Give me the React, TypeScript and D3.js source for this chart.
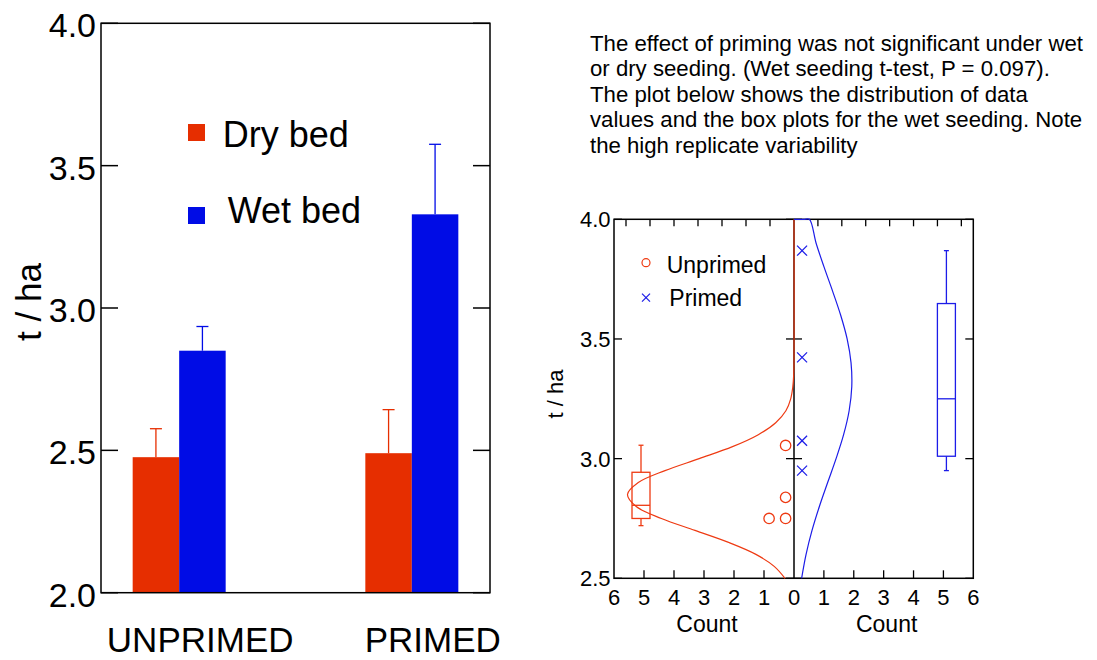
import React from 'react';
import * as d3 from 'd3';

// ---- Bar chart data (t / ha) ----
const categories = ['UNPRIMED', 'PRIMED'];
const seriesNames = ['Dry bed', 'Wet bed'];
const dryMeans = [2.476, 2.49];
const dryErrors = [0.1, 0.153];
const wetMeans = [2.85, 3.329];
const wetErrors = [0.085, 0.246];
const barTicks = [2.0, 2.5, 3.0, 3.5, 4.0];

// ---- Wet seeding distribution data ----
const unprimedWet = [3.055, 2.838, 2.75, 2.75];
const primedWet = [3.869, 3.423, 3.075, 2.95];
// box stats: lower whisker, Q1, median, Q3, upper whisker
const unprimedBoxStats = [2.72, 2.75, 2.805, 2.943, 3.056];
const primedBoxStats = [2.95, 3.01, 3.25, 3.648, 3.869];
// fitted normal curves: yield level and count
const unprimedCurveLevel = [2.5, 2.55, 2.6, 2.65, 2.7, 2.75, 2.8, 2.85, 2.9, 2.95, 3.0, 3.05, 3.1, 3.15, 3.2, 3.25, 3.3, 3.35, 3.4, 4.0];
const unprimedCurveCount = [0.3, 0.66, 1.27, 2.18, 3.3, 4.42, 5.26, 5.55, 5.19, 4.3, 3.16, 2.05, 1.19, 0.61, 0.27, 0.11, 0.04, 0.01, 0, 0];
const primedCurveLevel = [2.5, 2.6, 2.7, 2.8, 2.9, 3.0, 3.1, 3.2, 3.3, 3.4, 3.5, 3.6, 3.7, 3.8, 3.9, 4.0, 4.1, 4.2, 4.3, 4.5, 4.8];
const primedCurveCount = [0.255, 0.404, 0.603, 0.849, 1.126, 1.408, 1.66, 1.845, 1.933, 1.909, 1.778, 1.56, 1.291, 1.007, 0.74, 0.514, 0.336, 0.207, 0.12, 0.034, 0];
const distTicks = [2.5, 3.0, 3.5, 4.0];
const countTicks = [0, 1, 2, 3, 4, 5, 6];
const topMinorTicks = [1, 2, 3, 4, 5, 6, 7];

const noteLines = [
  'The effect of priming was not significant under wet',
  'or dry seeding. (Wet seeding t-test, P = 0.097).',
  'The plot below shows the distribution of data',
  'values and the box plots for the wet seeding. Note',
  'the high replicate variability',
];

const RED = '#e62e00';
const BLUE = '#000ce6';
const RED2 = '#ee3a12';
const BLUE2 = '#1c1ce8';
const FONT = "'Liberation Sans', Arial, Helvetica, sans-serif";

export default function App() {
  // ---------- left: bar chart ----------
  const L = { left: 101, right: 490, top: 23.3, bottom: 592.7 };
  const y = d3.scaleLinear().domain([2, 4]).range([L.bottom, L.top]);
  const x = d3.scalePoint<string>().domain(categories).range([L.left, L.right]).padding(0.336);
  const inner = d3.scaleBand<string>().domain(seriesNames).range([-46.5, 46.5]);
  const barData = categories.flatMap((c, i) => [
    { cat: c, s: seriesNames[0], v: dryMeans[i], e: dryErrors[i], color: RED },
    { cat: c, s: seriesNames[1], v: wetMeans[i], e: wetErrors[i], color: BLUE },
  ]);

  // ---------- right: distribution plot ----------
  const R = { left: 614, mid: 794, right: 973.3, top: 219.3, bottom: 578.3 };
  const yR = d3.scaleLinear().domain([2.5, 4]).range([R.bottom, R.top]).clamp(true);
  const cL = d3.scaleLinear().domain([0, 6]).range([R.mid, R.left]);
  const cR = d3.scaleLinear().domain([0, 6]).range([R.mid, R.right]);
  const topL = d3.scaleLinear().domain([0, 7.5]).range([R.mid, R.left]);
  const topR = d3.scaleLinear().domain([0, 7.5]).range([R.mid, R.right]);

  const redLine = d3
    .line<number>()
    .x((_, i) => cL(unprimedCurveCount[i]))
    .y((d) => yR(d))
    .curve(d3.curveCatmullRom);
  const blueLine = d3
    .line<number>()
    .x((_, i) => cR(primedCurveCount[i]))
    .y((d) => yR(d))
    .curve(d3.curveCatmullRom);

  // stacked dot positions for the unprimed values
  const seen = new Map<number, number>();
  const unprimedDots = unprimedWet.map((v) => {
    const k = seen.get(v) ?? 0;
    seen.set(v, k + 1);
    return { v, c: 0.28 + k * 0.55 };
  });

  const box = (stats: number[], cx: number, color: string) => {
    const [lo, q1, med, q3, hi] = stats;
    const w = 9;
    return (
      <g stroke={color} strokeWidth={1.3} fill="none">
        <line x1={cx} x2={cx} y1={yR(hi)} y2={yR(q3)} />
        <line x1={cx} x2={cx} y1={yR(q1)} y2={yR(lo)} />
        <line x1={cx - 2.5} x2={cx + 2.5} y1={yR(hi)} y2={yR(hi)} />
        <line x1={cx - 2.5} x2={cx + 2.5} y1={yR(lo)} y2={yR(lo)} />
        <rect x={cx - w} y={yR(q3)} width={2 * w} height={yR(q1) - yR(q3)} />
        <line x1={cx - w} x2={cx + w} y1={yR(med)} y2={yR(med)} />
      </g>
    );
  };

  return (
    <svg width={1097} height={660} style={{ position: 'absolute', left: 0, top: 0, background: '#fff' }} fontFamily={FONT}>
      {/* bars */}
      {barData.map((d) => {
        const bx = (x(d.cat) as number) + (inner(d.s) as number);
        const bw = inner.bandwidth();
        const cx = bx + bw / 2;
        return (
          <g key={d.cat + d.s}>
            <rect x={bx} y={y(d.v)} width={bw} height={y(2) - y(d.v)} fill={d.color} />
            <g stroke={d.color} strokeWidth={1.3}>
              <line x1={cx} x2={cx} y1={y(d.v)} y2={y(d.v + d.e)} />
              <line x1={cx - 6} x2={cx + 6} y1={y(d.v + d.e)} y2={y(d.v + d.e)} />
            </g>
          </g>
        );
      })}
      {/* frame and ticks */}
      <rect x={L.left} y={L.top} width={L.right - L.left} height={L.bottom - L.top} fill="none" stroke="#000" strokeWidth={1.5} />
      {barTicks.map((t) => (
        <g key={t} stroke="#000" strokeWidth={1.5}>
          <line x1={L.left} x2={L.left + 17} y1={y(t)} y2={y(t)} />
          <line x1={L.right - 17} x2={L.right} y1={y(t)} y2={y(t)} />
        </g>
      ))}
      {barTicks.map((t) => (
        <text key={'l' + t} x={L.left - 5} y={y(t) + 14} fontSize={34} textAnchor="end" fill="#000">
          {t.toFixed(1)}
        </text>
      ))}
      <text transform={`translate(41,302) rotate(-90)`} fontSize={35} textAnchor="middle" fill="#000">
        t / ha
      </text>
      {categories.map((c) => (
        <text key={c} x={(x(c) as number) + 21} y={652} fontSize={35} textAnchor="middle" fill="#000">
          {c}
        </text>
      ))}
      {/* legend */}
      <rect x={188} y={124} width={17} height={17} fill={RED} />
      <text x={222.7} y={146.7} fontSize={36} fill="#000">{seriesNames[0]}</text>
      <rect x={188} y={207} width={17} height={17} fill={BLUE} />
      <text x={227.7} y={222.7} fontSize={36} fill="#000">{seriesNames[1]}</text>

      {/* note */}
      {noteLines.map((s, i) => (
        <text key={i} x={590} y={50.7 + i * 25.5} fontSize={22.2} fill="#000">
          {s}
        </text>
      ))}

      {/* distribution plot frame */}
      <rect x={R.left} y={R.top} width={R.right - R.left} height={R.bottom - R.top} fill="none" stroke="#000" strokeWidth={1.5} />
      <line x1={R.mid} x2={R.mid} y1={R.top} y2={R.bottom} stroke="#000" strokeWidth={1.5} />
      {distTicks.map((t) => (
        <g key={t} stroke="#000" strokeWidth={1.3}>
          <line x1={R.left} x2={R.left + 8} y1={yR(t)} y2={yR(t)} />
          <line x1={R.right - 8} x2={R.right} y1={yR(t)} y2={yR(t)} />
          <line x1={R.mid - 8} x2={R.mid + 8} y1={yR(t)} y2={yR(t)} />
        </g>
      ))}
      {countTicks.slice(1, 6).map((c) => (
        <g key={c} stroke="#000" strokeWidth={1.3}>
          <line x1={cL(c)} x2={cL(c)} y1={R.bottom} y2={R.bottom - 8} />
          <line x1={cR(c)} x2={cR(c)} y1={R.bottom} y2={R.bottom - 8} />
        </g>
      ))}
      {topMinorTicks.map((c) => (
        <g key={c} stroke="#000" strokeWidth={1.3}>
          <line x1={topL(c)} x2={topL(c)} y1={R.top} y2={R.top + 7} />
          <line x1={topR(c)} x2={topR(c)} y1={R.top} y2={R.top + 7} />
        </g>
      ))}
      {distTicks.map((t) => (
        <text key={'r' + t} x={610.5} y={yR(t) + 8} fontSize={22} textAnchor="end" fill="#000">
          {t.toFixed(1)}
        </text>
      ))}
      {countTicks.map((c) => (
        <text key={'cl' + c} x={cL(c)} y={605} fontSize={22} textAnchor="middle" fill="#000">
          {c}
        </text>
      ))}
      {countTicks.slice(1).map((c) => (
        <text key={'cr' + c} x={cR(c)} y={605} fontSize={22} textAnchor="middle" fill="#000">
          {c}
        </text>
      ))}
      <text x={(R.left + R.mid) / 2 + 3} y={631.7} fontSize={23} textAnchor="middle" fill="#000">Count</text>
      <text x={(R.mid + R.right) / 2 + 3} y={631.7} fontSize={23} textAnchor="middle" fill="#000">Count</text>
      <text transform={`translate(563,394) rotate(-90)`} fontSize={22} textAnchor="middle" fill="#000">
        t / ha
      </text>

      {/* fitted curves */}
      <path d={redLine(unprimedCurveLevel) ?? ''} fill="none" stroke={RED2} strokeWidth={1.2} />
      <path d={blueLine(primedCurveLevel) ?? ''} fill="none" stroke={BLUE2} strokeWidth={1.2} />

      {/* box plots */}
      {box(unprimedBoxStats, cL(5.1), RED2)}
      {box(primedBoxStats, cR(5.1), BLUE2)}

      {/* raw values */}
      {unprimedDots.map((d, i) => (
        <circle key={i} cx={cL(d.c)} cy={yR(d.v)} r={5.2} fill="none" stroke={RED2} strokeWidth={1.3} />
      ))}
      {primedWet.map((v, i) => {
        const px = cR(0.27);
        const py = yR(v);
        return (
          <g key={i} stroke={BLUE2} strokeWidth={1.3}>
            <line x1={px - 5} x2={px + 5} y1={py - 5} y2={py + 5} />
            <line x1={px - 5} x2={px + 5} y1={py + 5} y2={py - 5} />
          </g>
        );
      })}

      {/* legend */}
      <circle cx={646} cy={262.7} r={4} fill="none" stroke={RED2} strokeWidth={1.2} />
      <text x={666.7} y={272.7} fontSize={23} fill="#000">Unprimed</text>
      <g stroke={BLUE2} strokeWidth={1.2}>
        <line x1={642} x2={650} y1={293.7} y2={301.7} />
        <line x1={642} x2={650} y1={301.7} y2={293.7} />
      </g>
      <text x={669.3} y={306} fontSize={23} fill="#000">Primed</text>
    </svg>
  );
}
